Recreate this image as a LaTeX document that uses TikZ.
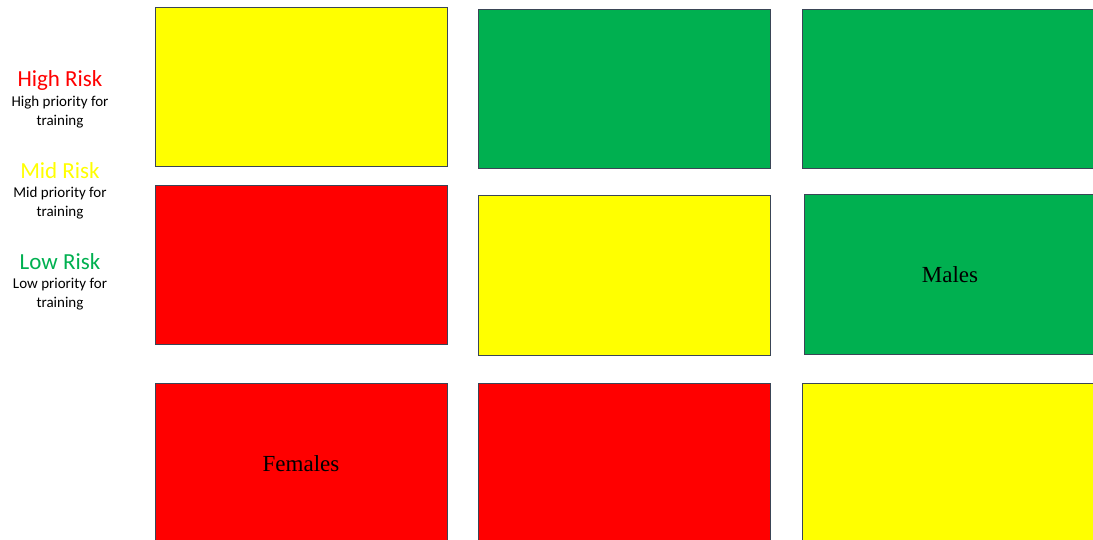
\documentclass[tikz,border=0pt]{standalone}
\usepackage{fontspec}
\setmainfont{Liberation Serif}
\newfontfamily\legendfont{Carlito}
\usepackage{tikz}
\usetikzlibrary{positioning}
\definecolor{riskred}{HTML}{FF0000}
\definecolor{riskyellow}{HTML}{FFFF00}
\definecolor{riskgreen}{HTML}{00B050}
\definecolor{boxline}{HTML}{3A4556}

\begin{document}
\begin{tikzpicture}[x=1pt,y=-1pt,
cell/.style={draw=boxline, line width=0.7pt, anchor=north west, minimum width=292pt, minimum height=159pt, inner sep=0pt, font=\fontsize{23}{25}\selectfont},
riskhead/.style={font=\legendfont\fontsize{23}{25}\selectfont, inner sep=0pt},
riskdesc/.style={font=\legendfont\fontsize{15}{18.5}\selectfont, align=center, inner sep=0pt}]
\useasboundingbox (0,0) rectangle (1093,540);
\clip (0,0) rectangle (1093,540);
% legend
\node[riskhead, text=riskred] (high) at (60,80) {High Risk};
\node[riskdesc] (highdesc) at (60,112) {High priority for\\training};
\node[riskhead, text=riskyellow] (mid) at (60,171) {Mid Risk};
\node[riskdesc] (middesc) at (60,203) {Mid priority for\\training};
\node[riskhead, text=riskgreen] (low) at (60,262) {Low Risk};
\node[riskdesc] (lowdesc) at (60,294) {Low priority for\\training};
% first row
\node[cell, fill=riskyellow] (r1c1) at (155,7) {};
\node[cell, fill=riskgreen] (r1c2) at (478,9) {};
\node[cell, fill=riskgreen] (r1c3) at (802,9) {};
% second row
\node[cell, fill=riskred] (r2c1) at (155,185) {};
\node[cell, fill=riskyellow, minimum height=160pt] (r2c2) at (478,195) {};
\node[cell, fill=riskgreen, minimum height=160pt] (r2c3) at (804,194) {};
\node (males) at (950,275) {\fontsize{23}{25}\selectfont Males};
% third row
\node[cell, fill=riskred] (r3c1) at (155,383) {};
\node[cell, fill=riskred] (r3c2) at (478,383) {};
\node[cell, fill=riskyellow] (r3c3) at (802,383) {};
\node (females) at (301,464) {\fontsize{23}{25}\selectfont Females};
\end{tikzpicture}
\end{document}
